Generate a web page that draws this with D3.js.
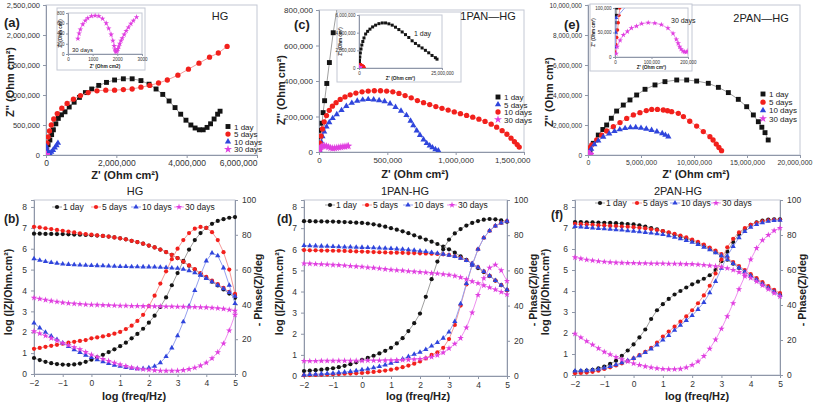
<!DOCTYPE html>
<html><head><meta charset="utf-8">
<script src="https://cdn.jsdelivr.net/npm/d3@7"></script>
<style>body{margin:0;background:#fff}svg{display:block}text{font-family:"Liberation Sans",Arial,sans-serif}</style>
</head><body>
<script>
// ---------------- DATA ----------------
// Bode plots: log frequency
const logF = [-2,-1.8,-1.6,-1.4,-1.2,-1,-0.8,-0.6,-0.4,-0.2,0,0.2,0.4,0.6,0.8,1,1.2,1.4,1.6,1.8,2,2.2,2.4,2.6,2.8,3,3.2,3.4,3.6,3.8,4,4.2,4.4,4.6,4.8,5];
// (b) HG : log|Z| and -phase
const hgZ1  = [6.72,6.72,6.71,6.71,6.7,6.7,6.69,6.68,6.67,6.66,6.65,6.63,6.61,6.58,6.54,6.5,6.45,6.38,6.32,6.24,6.15,6.06,5.96,5.84,5.7,5.55,5.37,5.19,5.0,4.8,4.6,4.42,4.24,4.05,3.85,3.65];
const hgZ5  = [7.05,7.02,6.98,6.94,6.9,6.86,6.82,6.78,6.74,6.7,6.67,6.64,6.61,6.58,6.54,6.5,6.45,6.38,6.32,6.24,6.15,6.06,5.96,5.84,5.7,5.55,5.38,5.2,5.02,4.83,4.65,4.47,4.3,4.12,3.93,3.75];
const hgZ10 = [5.52,5.45,5.39,5.34,5.3,5.27,5.25,5.23,5.22,5.21,5.2,5.19,5.18,5.17,5.16,5.15,5.15,5.14,5.14,5.13,5.13,5.12,5.11,5.1,5.08,5.06,5.02,4.95,4.85,4.72,4.58,4.42,4.25,4.08,3.9,3.72];
const hgZ30 = [3.65,3.6,3.55,3.5,3.46,3.42,3.39,3.37,3.35,3.33,3.32,3.31,3.3,3.29,3.28,3.27,3.27,3.26,3.26,3.25,3.25,3.24,3.24,3.23,3.23,3.22,3.22,3.21,3.21,3.2,3.19,3.17,3.15,3.12,3.08,3.03];
const hgP1  = [9.2,8,7,6.2,5.7,5.4,5.3,5.5,6,7,8.2,9.5,11,12.6,14.2,16,18,20.5,23,26,29.5,33.5,38.5,44,51,58,65,71.5,77,81,84,86.3,88,89,89.8,90.2];
const hgP5  = [14.5,15,15.6,16.2,16.8,17.4,18,18.5,19,19.5,20.5,21,21.6,22.3,23.2,24.2,25.8,27.8,30.5,34,39,45,52,59,66,72,77,81,83.5,84.5,84,81.5,77,70,60,46];
const hgP10 = [29.3,26.5,24,21.8,19.8,17.8,15.8,14,12.3,10.8,9.5,8.2,7,6,5.1,4.4,3.8,3.3,3.1,3.1,3.5,4.5,6.5,10,15,22,30,39,48,57,65,69.5,68,61,51,40.5];
const hgP30 = [24.5,23.3,22,20.6,19.2,17.8,16.6,15.4,14.2,12.6,11.1,9.8,8.6,7.5,6.4,5.4,4.5,3.7,3.1,2.7,2.4,2.1,1.9,1.8,1.8,1.9,2.2,2.8,3.6,4.8,6.5,9,12.5,17.5,25,34];
// (d) 1PAN-HG
const p1Z1  = [7.33,7.33,7.32,7.32,7.31,7.31,7.3,7.29,7.28,7.26,7.25,7.22,7.18,7.13,7.07,7.0,6.93,6.85,6.76,6.66,6.56,6.46,6.36,6.25,6.13,6.0,5.84,5.67,5.5,5.3,5.11,4.92,4.73,4.52,4.3,4.06];
const p1Z5  = [5.96,5.95,5.95,5.94,5.94,5.93,5.93,5.92,5.91,5.9,5.89,5.88,5.87,5.86,5.85,5.84,5.84,5.83,5.82,5.82,5.81,5.8,5.79,5.78,5.76,5.73,5.67,5.59,5.48,5.33,5.15,4.95,4.74,4.52,4.3,4.08];
const p1Z10 = [6.18,6.17,6.16,6.15,6.14,6.13,6.12,6.11,6.11,6.1,6.09,6.08,6.07,6.06,6.05,6.04,6.02,6.0,5.98,5.95,5.92,5.89,5.85,5.81,5.77,5.72,5.66,5.58,5.47,5.33,5.15,4.95,4.74,4.52,4.3,4.08];
const p1Z30 = [5.33,5.32,5.3,5.29,5.28,5.26,5.25,5.23,5.21,5.19,5.17,5.14,5.12,5.09,5.06,5.03,5.01,4.99,4.96,4.94,4.92,4.9,4.87,4.85,4.82,4.79,4.74,4.67,4.58,4.48,4.39,4.29,4.19,4.09,3.98,3.86];
const p1P1  = [2.8,3,3.3,3.6,4,4.4,5,5.8,6.7,7.8,9.1,10.3,11.5,12.8,14.3,16,18.5,21.5,25.5,30,35.5,45,55,65,72,77.5,81,83.5,85.5,87,88,88.8,89.2,89,88.5,87.7];
const p1P5  = [0.4,0.5,0.6,0.7,0.8,1,1.1,1.3,1.4,1.5,1.7,2,2.3,2.7,3.1,3.6,4.2,5,5.9,7,8.3,10,12,13.5,16,21,29,40,52,63,72,78.5,82.5,85.3,87,88];
const p1P10 = [0.6,0.8,1,1.2,1.4,1.6,1.9,2.2,2.6,3,3.5,4,4.7,5.4,6.3,7.2,8.3,9.6,11,12.3,13.5,15,17,19,21.5,25,31,41,52.5,63,72,78.5,82.5,85.3,87,88];
const p1P30 = [8.5,8.5,8.5,8.6,8.6,8.6,8.7,8.7,8.7,8.7,8.7,8.8,8.8,8.8,8.9,8.9,9,9.1,9.3,9.5,9.7,10.2,10.8,11.8,13.3,15.7,18.3,21.5,27.5,36,46,55.5,61.5,63.2,60,54];
// (f) 2PAN-HG
const p2Z1  = [7.28,7.28,7.27,7.27,7.26,7.25,7.24,7.23,7.21,7.19,7.17,7.13,7.07,7.0,6.93,6.85,6.77,6.69,6.59,6.5,6.4,6.28,6.15,6.01,5.85,5.68,5.49,5.3,5.1,4.91,4.72,4.53,4.34,4.15,3.97,3.82];
const p2Z5  = [7.2,7.18,7.17,7.15,7.13,7.12,7.1,7.09,7.07,7.06,7.04,7.01,6.98,6.94,6.9,6.85,6.79,6.72,6.64,6.55,6.45,6.34,6.21,6.07,5.92,5.76,5.57,5.38,5.19,5.0,4.8,4.61,4.42,4.23,4.05,3.9];
const p2Z10 = [7.07,7.05,7.03,7.0,6.98,6.96,6.94,6.92,6.9,6.87,6.85,6.82,6.79,6.76,6.73,6.69,6.63,6.56,6.49,6.41,6.32,6.21,6.09,5.96,5.82,5.68,5.5,5.31,5.11,4.92,4.72,4.53,4.34,4.15,3.97,3.8];
const p2Z30 = [5.6,5.54,5.49,5.45,5.42,5.39,5.37,5.35,5.34,5.33,5.33,5.32,5.32,5.31,5.31,5.31,5.3,5.3,5.29,5.28,5.28,5.26,5.24,5.21,5.18,5.15,5.08,5.0,4.9,4.78,4.62,4.45,4.27,4.08,3.9,3.74];
const p2P1  = [2,2.2,2.5,3,3.8,4.8,6.3,8.2,11,14,17.5,21.5,26,32,37,40.5,43.5,46,48,50,51.8,53.3,55,57,60,65,70.5,76,80.5,83.5,85.8,87.2,88.2,88.8,89,89];
const p2P5  = [1,1.2,1.4,1.8,2.5,3.5,4.4,5.5,6.7,8,9.5,11.3,13.2,15.5,18.5,22,24.8,27.6,30.5,33.5,37,41,45.5,51,58,66,73,77.8,81.5,84,85.8,87,87.8,88.3,88.6,88.7];
const p2P10 = [2.3,2.4,2.5,2.8,3.3,4,4.8,5.9,7,8.2,9.5,11,12.8,14.8,17.2,20,22.6,25.6,28.4,31.2,34,37.5,41.5,47,53.5,61,68,73.5,78.5,82,84.5,86,87,87.8,88.3,88.5];
const p2P30 = [23.6,21.4,19.3,17.3,15.2,13.2,11.7,10.2,8.9,7.7,6.6,5.7,4.9,4.3,3.8,3.4,3.3,3.3,3.5,4.3,5.7,7.7,10.8,15,20.2,26.4,33.5,41,49,56.5,66,72.5,77,80,82.5,84];

// Nyquist plots (values in kOhm cm2 unless noted)
const a1x = [20,60,110,160,210,280,350,440,540,660,800,950,1120,1300,1500,1720,1950,2200,2450,2700,2930,3130,3320,3500,3670,3830,3980,4120,4240,4360,4470,4580,4680,4780,4880,4950];
const a1y = [80,170,250,340,420,520,610,670,720,800,880,960,1040,1100,1160,1210,1250,1270,1270,1240,1180,1100,1010,900,790,680,580,500,450,420,420,460,520,600,680,730];
const a5x = [10,30,60,100,150,220,320,450,600,780,980,1200,1450,1700,1950,2200,2450,2700,2950,3200,3450,3750,4050,4350,4650,4900,5150];
const a5y = [100,200,300,400,500,600,690,780,860,930,990,1040,1070,1080,1080,1090,1100,1130,1160,1200,1250,1330,1430,1530,1630,1700,1810];
const a10x = [10,30,60,100,150,200,250,300,340];
const a10y = [140,80,40,30,50,80,120,160,200];
// HG 30 days, in Ohm cm2 (inset)
const a30x = [400,450,500,600,700,800,950,1100,1250,1400,1550,1650,1750,1820,1870,1900,1930,1960,1990,2020,2060,2100,2150,2200,2280,2360,2450,2550,2650,2780];
const a30y = [300,400,480,580,650,700,740,750,740,690,600,500,380,260,160,90,50,40,60,100,150,200,260,310,380,450,520,590,650,720];

const c1x = [1,3,8,14,22,30,41,57,76,104,150,250,400,600,850,1150,1500,2000,2600,3300,4100,5000,6000,7000,8000,9000,10000,11000,12000,13000,14000,15000,16000,17000,18000,19000,20000,21000,22000,23000,23500];
const c1y = [10,49,85,122,162,222,289,386,504,672,900,1250,1700,2150,2600,3000,3400,3850,4150,4400,4650,4850,5020,5100,5100,5000,4850,4620,4350,4080,3780,3450,3080,2780,2520,2270,2000,1720,1420,1170,1000];
const c5x = [3,8,15,25,38,55,75,100,130,165,200,240,280,320,360,400,440,480,520,560,600,640,670,690,715,739,765,788,810,830,852,873];
const c5y = [12,35,60,88,115,142,167,190,212,235,258,276,288,294,297,295,291,285,272,253,232,207,175,149,120,95,70,49,36,25,15,8];
const c10x = [3,8,15,25,38,55,75,98,125,155,190,228,270,315,360,405,450,495,540,585,630,675,720,765,810,855,900,945,990,1035,1080,1125,1170,1215,1260,1300,1340,1375,1405,1430,1450,1465];
const c10y = [15,50,90,130,170,205,235,258,278,296,310,322,332,339,343,345,345,343,339,330,318,305,290,278,267,256,246,236,226,216,206,196,185,172,157,140,120,100,78,58,42,28];
const c30x = [2,6,12,20,30,42,55,70,85,100,115,130,145,160,175,190,205,215];
const c30y = [8,18,26,31,34,35,33,28,23,21,22,24,26,28,30,31,33,34];

const e1x = [0.5,1,1.5,2,3,4,5,30,190,500,970,1400,1760,2200,2700,3330,3960,4590,5380,6320,7260,8370,9310,10250,11350,12300,13240,14180,14970,15600,16070,16400,16700,17000];
const e1y = [10,25,40,55,70,85,100,200,330,780,1330,1700,2000,2450,2930,3330,3670,4000,4380,4670,4890,5000,5000,4930,4780,4510,4160,3710,3220,2670,2220,1850,1490,1000];
const e5x = [1,3,5,7,9,11,13,40,100,200,350,820,1290,1760,2390,3020,3650,4280,4900,5500,6010,6550,7100,7500,7890,8520,9000,9600,10250,10880,11500,11800,12100,12350,12600];
const e5y = [10,25,40,55,70,85,100,200,330,500,670,1000,1330,1600,1890,2160,2440,2670,2820,2960,3040,3040,3000,2950,2890,2780,2560,2250,1930,1560,1220,1000,730,500,290];
const e10x = [1,2,3,50,150,300,600,970,1440,2000,2500,3000,3500,4000,4500,5000,5500,6000,6500,7000,7300,7580];
const e10y = [20,50,80,120,220,400,700,950,1200,1420,1580,1700,1780,1830,1840,1800,1740,1660,1560,1440,1330,1220];
const e30x = [3,6,14,23,34,45,59,73,91,109,127,145,159,168,173,177,181,186,190,195,200,205];
const e30y = [7,21,34,45,52,59,63,68,70,69,66,59,48,36,28,21,16,12,10.5,10,12,15];

const dayLabels = ["1 day","5 days","10 days","30 days"];
const xTicksA = [0,2e6,4e6,6e6], yTicksA = [0,5e5,1e6,1.5e6,2e6,2.5e6];
const xTicksC = [0,5e5,1e6,1.5e6], yTicksC = [0,2e5,4e5,6e5,8e5];
const xTicksE = [0,5e6,1e7,1.5e7,2e7], yTicksE = [0,2e6,4e6,6e6,8e6,1e7];
const fTicks = [-2,-1,0,1,2,3,4,5], zTicks = [0,1,2,3,4,5,6,7,8], pTicks = [0,20,40,60,80,100];

// ---------------- DRAWING ----------------
const svg = d3.select('body').append('svg').attr('width',815).attr('height',408);
const COL  = {k:'#141414', r:'#f2201c', b:'#2f45dc', m:'#e03fe0'};
const LINE = {k:'#a0a0a0', r:'#f59a9a', b:'#95a0ef', m:'#ef90ef'};
const NSYM = {k:d3.symbolSquare, r:d3.symbolCircle, b:d3.symbolTriangle, m:d3.symbolStar};
const NSIZE = {k:24, r:22, b:17, m:20};
const BSYM = {k:d3.symbolCircle, r:d3.symbolCircle, b:d3.symbolTriangle, m:d3.symbolStar};
const BSIZE = {k:14, r:14, b:12, m:13};
const AX = '#8f97a8', FR = '#c3c8d4', TXT = '#222';
const fmt = d3.format(',');
let cid = 0;
function clip(x,y,w,h){const id='cp'+(cid++);svg.append('clipPath').attr('id',id).append('rect').attr('x',x).attr('y',y).attr('width',w).attr('height',h);return 'url(#'+id+')';}
function series(g,xs,ys,sx,sy,key,unit,sym,size){
  const pts = xs.map((v,i)=>[sx(v*unit), sy(ys[i]*unit)]);
  g.append('path').attr('d',d3.line()(pts)).attr('fill','none').attr('stroke',LINE[key]).attr('stroke-width',1);
  g.selectAll(null).data(pts).join('path').attr('transform',d=>`translate(${d[0]},${d[1]})`)
   .attr('d',d3.symbol().type(sym[key]).size(size[key])).attr('fill',COL[key]);
}
function styleAxis(a,fs){
  a.select('.domain').attr('stroke',AX);
  a.selectAll('.tick line').attr('stroke',AX);
  a.selectAll('.tick text').attr('fill','#333').style('font-size',fs+'px').style('font-family','"Liberation Sans",Arial,sans-serif');
  return a;
}
function text(x,y,s,o){
  o=o||{};
  const t=svg.append('text').attr('x',x).attr('y',y).attr('fill',TXT).style('font-size',(o.fs||10)+'px')
   .attr('text-anchor',o.anchor||'middle').style('font-weight',o.bold?'bold':'normal');
  if(o.rot) t.attr('transform',`rotate(-90,${x},${y})`);
  t.text(s); return t;
}
function nyquist(c){
  const x=d3.scaleLinear().domain(c.xd).range([c.L,c.R]);
  const y=d3.scaleLinear().domain(c.yd).range([c.B,c.T]);
  const g=svg.append('g');
  g.append('rect').attr('x',c.L).attr('y',c.T).attr('width',c.R-c.L).attr('height',c.B-c.T).attr('fill','none').attr('stroke',FR);
  const xa=styleAxis(g.append('g').attr('transform',`translate(0,${c.B})`).call(d3.axisBottom(x).tickValues(c.xt).tickSize(3).tickPadding(2).tickFormat(fmt)),c.xfs);
  xa.selectAll('.tick text').filter((d,i,n)=>i===n.length-1).attr('text-anchor','end').attr('dx',c.lastDx);
  styleAxis(g.append('g').attr('transform',`translate(${c.L},0)`).call(d3.axisLeft(y).tickValues(c.yt).tickSize(3).tickPadding(3).tickFormat(fmt)),c.yfs);
  const dg=g.append('g').attr('clip-path',clip(c.L,c.T,c.R-c.L,c.B-c.T));
  c.series.forEach(s=>series(dg,s.x,s.y,x,y,s.k,s.u,NSYM,NSIZE));
  return g;
}
function inset(c){
  svg.append('rect').attr('x',c.fx0).attr('y',c.fy0).attr('width',c.fx1-c.fx0).attr('height',c.fy1-c.fy0).attr('fill','#fff').attr('stroke',FR);
  const x=d3.scaleLinear().domain(c.xd).range([c.L,c.R]);
  const y=d3.scaleLinear().domain(c.yd).range([c.B,c.T]);
  const g=svg.append('g');
  const f=c.plain?d3.format('d'):fmt;
  g.append('rect').attr('x',c.L).attr('y',c.T).attr('width',c.R-c.L).attr('height',c.B-c.T).attr('fill','none').attr('stroke',FR);
  styleAxis(g.append('g').attr('transform',`translate(0,${c.B})`).call(d3.axisBottom(x).tickValues(c.xt).tickSize(2).tickPadding(1.5).tickFormat(f)),4.5);
  styleAxis(g.append('g').attr('transform',`translate(${c.L},0)`).call(d3.axisLeft(y).tickValues(c.yt).tickSize(2).tickPadding(1.5).tickFormat(f)),4.5);
  const dg=g.append('g').attr('clip-path',clip(c.L,c.T,c.R-c.L,c.B-c.T));
  const sz={k:9,r:9,b:8,m:10};
  c.series.forEach(s=>series(dg,s.x,s.y,x,y,s.k,s.u,NSYM,sz));
  text((c.L+c.R)/2,c.fy1-2.5,c.plain?"Z' (Ohm cm2)":"Z' (Ohm cm²)",{fs:4.8,bold:true});
  text(c.fx0+5,(c.T+c.B)/2,"Z'' (Ohm cm²)",{fs:4.5,bold:true,rot:true});
}
function nLegend(x,y0,dy,keys){
  keys.forEach((k,i)=>{
    const y=y0+i*dy;
    svg.append('path').attr('transform',`translate(${x},${y})`).attr('d',d3.symbol().type(NSYM[k]).size(NSIZE[k])).attr('fill',COL[k]);
    text(x+6,y+3,dayLabels[i],{fs:8,anchor:'start'});
  });
}
function bode(c){
  const x=d3.scaleLinear().domain([-2,5]).range([c.L,c.R]);
  const yl=d3.scaleLinear().domain([0,100/12]).range([c.B,c.T]);
  const yr=d3.scaleLinear().domain([0,100]).range([c.B,c.T]);
  const g=svg.append('g');
  g.append('rect').attr('x',c.L).attr('y',c.T).attr('width',c.R-c.L).attr('height',c.B-c.T).attr('fill','none').attr('stroke',FR);
  styleAxis(g.append('g').attr('transform',`translate(0,${c.B})`).call(d3.axisBottom(x).tickValues(fTicks).tickSize(3).tickPadding(3).tickFormat(d3.format('d'))),8.5);
  styleAxis(g.append('g').attr('transform',`translate(${c.L},0)`).call(d3.axisLeft(yl).tickValues(zTicks).tickSize(3).tickPadding(4).tickFormat(d3.format('d'))),8.5);
  styleAxis(g.append('g').attr('transform',`translate(${c.R},0)`).call(d3.axisRight(yr).tickValues(pTicks).tickSize(3).tickPadding(4).tickFormat(d3.format('d'))),8.5);
  const dg=g.append('g').attr('clip-path',clip(c.L-3,c.T-3,c.R-c.L+6,c.B-c.T+6));
  const keys=['k','r','b','m'];
  keys.forEach((k,i)=>{ series(dg,logF,c.Z[i],x,yl,k,1,BSYM,BSIZE); series(dg,logF,c.P[i],x,yr,k,1,BSYM,BSIZE); });
  keys.forEach((k,i)=>{
    const mx=c.leg[i], my=c.legY;
    svg.append('line').attr('x1',mx-5).attr('x2',mx+5).attr('y1',my).attr('y2',my).attr('stroke',LINE[k]);
    svg.append('path').attr('transform',`translate(${mx},${my})`).attr('d',d3.symbol().type(BSYM[k]).size(BSIZE[k])).attr('fill',COL[k]);
    text(mx+6,my+3,dayLabels[i],{fs:8.5,anchor:'start'});
  });
  text(c.titleX,195,c.title,{fs:11});
  text(c.labX,c.labY,c.lab,{fs:12,bold:true,anchor:'start'});
  text(c.xTitleX,400,'log (freq/Hz)',{fs:11,bold:true});
  text(c.lTX,292,'log (|Z|/Ohm.cm²)',{fs:10.5,bold:true,rot:true});
  text(c.rTX,290,'- Phase(Z)/deg',{fs:10.5,bold:true,rot:true});
}

// (a)
nyquist({L:46,R:257,T:5,B:155,xd:[0,6e6],yd:[0,2.5e6],xt:xTicksA,yt:yTicksA,xfs:8.5,yfs:7.5,lastDx:0,series:[
  {x:a1x,y:a1y,k:'k',u:1e3},{x:a5x,y:a5y,k:'r',u:1e3},{x:a10x,y:a10y,k:'b',u:1e3},{x:a30x,y:a30y,k:'m',u:1}]});
inset({fx0:57,fy0:8,fx1:145,fy1:70,L:68,R:142,T:13,B:54,xd:[0,3000],yd:[0,800],xt:[0,1000,2000,3000],yt:[0,200,400,600,800],plain:true,
  series:[{x:a30x,y:a30y,k:'m',u:1}]});
text(72,52,'30 days',{fs:6,anchor:'start'});
nLegend(228,126.5,7.6,['k','r','b','m']);
text(4,27,'(a)',{fs:13,bold:true,anchor:'start'});
text(220,20,'HG',{fs:11});
text(125,179,"Z' (Ohm cm²)",{fs:11,bold:true});
text(14,82,"Z'' (Ohm cm²)",{fs:11,bold:true,rot:true});

// (c)
nyquist({L:319,R:524,T:10,B:152,xd:[0,1.5e6],yd:[0,8e5],xt:xTicksC,yt:yTicksC,xfs:8,yfs:8,lastDx:6,series:[
  {x:c1x,y:c1y,k:'k',u:1e3},{x:c5x,y:c5y,k:'b',u:1e3},{x:c10x,y:c10y,k:'r',u:1e3},{x:c30x,y:c30y,k:'m',u:1e3}]});
inset({fx0:337,fy0:12,fx1:461,fy1:82,L:359,R:442,T:15,B:68,xd:[0,2.5e7],yd:[0,6e6],xt:[0,2.5e7],yt:[0,2e6,4e6,6e6],
  series:[{x:c1x,y:c1y,k:'k',u:1e3},{x:c5x,y:c5y,k:'b',u:1e3},{x:c10x,y:c10y,k:'r',u:1e3},{x:c30x,y:c30y,k:'m',u:1e3}]});
text(414,36,'1 day',{fs:7,anchor:'start'});
nLegend(498,97,7.5,['k','b','r','m']);
text(294,29,'(c)',{fs:13,bold:true,anchor:'start'});
text(488,20,'1PAN—HG',{fs:11});
text(415,178,"Z' (Ohm cm²)",{fs:11,bold:true});
text(285,90,"Z'' (Ohm cm²)",{fs:11,bold:true,rot:true});

// (e)
nyquist({L:588,R:800,T:5,B:155,xd:[0,2e7],yd:[0,1e7],xt:xTicksE,yt:yTicksE,xfs:7,yfs:6.5,lastDx:12,series:[
  {x:e1x,y:e1y,k:'k',u:1e3},{x:e5x,y:e5y,k:'r',u:1e3},{x:e10x,y:e10y,k:'b',u:1e3},{x:e30x,y:e30y,k:'m',u:1e3}]});
inset({fx0:590,fy0:4,fx1:692,fy1:71,L:615,R:688,T:8,B:57,xd:[0,2e5],yd:[0,1e5],xt:[0,1e5,2e5],yt:[0,5e4,1e5],
  series:[{x:e1x,y:e1y,k:'k',u:1e3},{x:e5x,y:e5y,k:'r',u:1e3},{x:e10x,y:e10y,k:'b',u:1e3},{x:e30x,y:e30y,k:'m',u:1e3}]});
text(671,23,'30 days',{fs:7,anchor:'start'});
nLegend(763,94,8.2,['k','r','b','m']);
text(564,29,'(e)',{fs:13,bold:true,anchor:'start'});
text(761,22,'2PAN—HG',{fs:11});
text(696,178,"Z' (Ohm cm²)",{fs:11,bold:true});
text(553,92,"Z'' (Ohm cm²)",{fs:11,bold:true,rot:true});

// Bode
bode({L:34,R:235,T:200,B:374,Z:[hgZ1,hgZ5,hgZ10,hgZ30],P:[hgP1,hgP5,hgP10,hgP30],leg:[57,96,136,179],legY:207,
  title:'HG',titleX:135,lab:'(b)',labX:4,labY:223,xTitleX:134,lTX:12,rTX:262});
bode({L:304,R:507,T:200,B:376,Z:[p1Z1,p1Z5,p1Z10,p1Z30],P:[p1P1,p1P5,p1P10,p1P30],leg:[330,367,408,452],legY:205,
  title:'1PAN-HG',titleX:405,lab:'(d)',labX:277,labY:223,xTitleX:418,lTX:283,rTX:537});
bode({L:575,R:780,T:200,B:375,Z:[p2Z1,p2Z5,p2Z10,p2Z30],P:[p2P1,p2P5,p2P10,p2P30],leg:[600,637,675,716],legY:203,
  title:'2PAN-HG',titleX:678,lab:'(f)',labX:551,labY:219,xTitleX:697,lTX:549,rTX:806});
</script>
</body></html>
